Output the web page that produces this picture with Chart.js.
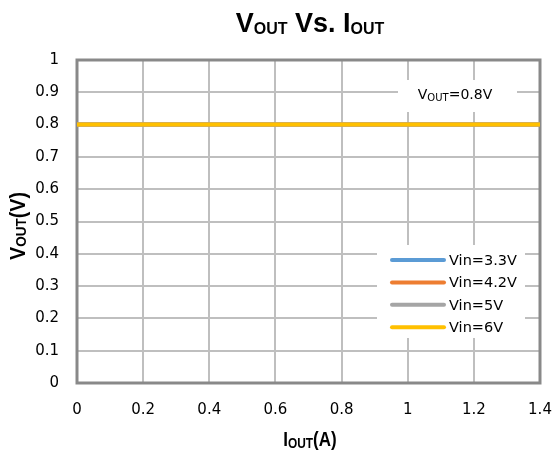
<!DOCTYPE html>
<html>
<head>
<meta charset="utf-8">
<script src="https://cdn.jsdelivr.net/npm/chart.js@4.4.0/dist/chart.umd.min.js"></script>
<style>
  body { margin: 0; background: #fff; }
</style>
</head>
<body>
<canvas id="myChart" width="553" height="452"></canvas>
<script>
// data
const ioutValues = [0, 0.2, 0.4, 0.6, 0.8, 1, 1.2, 1.4];
const vin33 = [0.8, 0.8, 0.8, 0.8, 0.8, 0.8, 0.8, 0.8];
const vin42 = [0.8, 0.8, 0.8, 0.8, 0.8, 0.8, 0.8, 0.8];
const vin5 = [0.8, 0.8, 0.8, 0.8, 0.8, 0.8, 0.8, 0.8];
const vin6 = [0.8, 0.8, 0.8, 0.8, 0.8, 0.8, 0.8, 0.8];
const seriesLabels = ['Vin=3.3V', 'Vin=4.2V', 'Vin=5V', 'Vin=6V'];
const seriesColors = ['#5B9BD5', '#ED7D31', '#A5A5A5', '#FFC000'];
const xTickValues = [0, 0.2, 0.4, 0.6, 0.8, 1, 1.2, 1.4];
const yTickValues = [0, 0.1, 0.2, 0.3, 0.4, 0.5, 0.6, 0.7, 0.8, 0.9, 1];
const noteText = ['V', 'OUT', '=0.8V'];

const seriesValues = [vin33, vin42, vin5, vin6];
const tickFont = '"DejaVu Sans", sans-serif';
const boldFont = '"Liberation Sans", Arial, sans-serif';

// draws main text + subscript pieces, centred on x
function drawRich(ctx, parts, x, y, sx) {
  let w = 0;
  parts.forEach(p => { ctx.font = p.font; p.w = ctx.measureText(p.text).width; w += p.w; });
  ctx.save();
  ctx.translate(x - w * sx / 2, y);
  ctx.scale(sx, 1);
  let cx = 0;
  parts.forEach(p => {
    ctx.font = p.font;
    ctx.fillText(p.text, cx, p.dy || 0);
    cx += p.w;
  });
  ctx.restore();
}

const decorPlugin = {
  id: 'decor',
  beforeDatasetsDraw(chart) {
    const ctx = chart.ctx;
    const a = chart.chartArea;
    ctx.save();
    // plot border
    ctx.strokeStyle = '#898989';
    ctx.lineWidth = 3;
    ctx.strokeRect(a.left, a.top, a.right - a.left, a.bottom - a.top);

    // note box
    ctx.fillStyle = '#fff';
    ctx.fillRect(398, 80, 119, 32);
    ctx.fillStyle = '#000';
    ctx.textBaseline = 'alphabetic';
    ctx.textAlign = 'left';
    const nf = '14px ' + tickFont;
    const sf = '10px ' + tickFont;
    drawRich(ctx, [
      { text: noteText[0], font: nf },
      { text: noteText[1], font: sf, dy: 2 },
      { text: noteText[2], font: nf }
    ], 455, 99, 1);

    // legend
    ctx.fillStyle = '#fff';
    ctx.fillRect(377, 245, 148, 93);
    ctx.font = '14.5px ' + tickFont;
    ctx.textBaseline = 'middle';
    seriesLabels.forEach((lab, i) => {
      const y = 260 + i * 22.4;
      ctx.strokeStyle = seriesColors[i];
      ctx.lineWidth = 4;
      ctx.lineCap = 'round';
      ctx.beginPath();
      ctx.moveTo(392, y);
      ctx.lineTo(444, y);
      ctx.stroke();
      ctx.fillStyle = '#000';
      ctx.fillText(lab, 449, y + 1);
    });
    ctx.restore();
  },
  afterDraw(chart) {
    const ctx = chart.ctx;
    ctx.save();
    ctx.fillStyle = '#000';
    ctx.textAlign = 'left';
    ctx.textBaseline = 'alphabetic';
    // title
    drawRich(ctx, [
      { text: 'V', font: 'bold 27px ' + boldFont },
      { text: 'OUT', font: 'bold 16px ' + boldFont, dy: 2 },
      { text: ' Vs. I', font: 'bold 27px ' + boldFont },
      { text: 'OUT', font: 'bold 16px ' + boldFont, dy: 2 }
    ], 310, 32, 1);
    // x title
    drawRich(ctx, [
      { text: 'I', font: 'bold 20px ' + boldFont },
      { text: 'OUT', font: 'bold 14px ' + boldFont, dy: 2 },
      { text: '(A)', font: 'bold 20px ' + boldFont }
    ], 310, 446, 0.85);
    // y title
    ctx.translate(25, 226);
    ctx.rotate(-Math.PI / 2);
    drawRich(ctx, [
      { text: 'V', font: 'bold 22px ' + boldFont },
      { text: 'OUT', font: 'bold 15px ' + boldFont, dy: 1 },
      { text: '(V)', font: 'bold 22px ' + boldFont }
    ], 0, 0, 0.9);
    ctx.restore();
  }
};

const chartCanvas = document.getElementById('myChart');

const data = {
  datasets: seriesLabels.map((lab, i) => ({
    label: lab,
    data: ioutValues.map((x, j) => ({ x: x, y: seriesValues[i][j] })),
    borderColor: seriesColors[i],
    backgroundColor: seriesColors[i],
    borderWidth: 4,
    pointRadius: 0,
    showLine: true,
    fill: false,
    order: seriesLabels.length - i
  }))
};

const fmt = v => String(Number(v.toFixed(1)));

const config = {
  type: 'scatter',
  data: data,
  options: {
    responsive: false,
    animation: false,
    layout: { padding: { top: 60, right: 13, left: 0, bottom: 0 } },
    plugins: {
      legend: { display: false },
      tooltip: { enabled: false }
    },
    scales: {
      x: {
        type: 'linear',
        min: 0,
        max: 1.4,
        afterBuildTicks: s => { s.ticks = xTickValues.map(v => ({ value: v })); },
        afterFit: s => { s.height = 69; s.paddingRight = 0; s.paddingLeft = 0; },
        grid: { color: '#bfbfbf', lineWidth: 2, drawTicks: false },
        border: { display: false },
        ticks: { color: '#000', font: { family: tickFont, size: 15 }, padding: 18, maxRotation: 0, callback: fmt }
      },
      y: {
        type: 'linear',
        min: 0,
        max: 1,
        afterBuildTicks: s => { s.ticks = yTickValues.map(v => ({ value: v })); },
        afterFit: s => { s.width = 77; s.paddingTop = 0; s.paddingBottom = 0; },
        grid: { color: '#bfbfbf', lineWidth: 2, drawTicks: false },
        border: { display: false },
        ticks: { color: '#000', font: { family: tickFont, size: 15 }, padding: 18, callback: fmt }
      }
    }
  },
  plugins: [decorPlugin]
};

const myChart = new Chart(chartCanvas, config);
</script>
</body>
</html>
